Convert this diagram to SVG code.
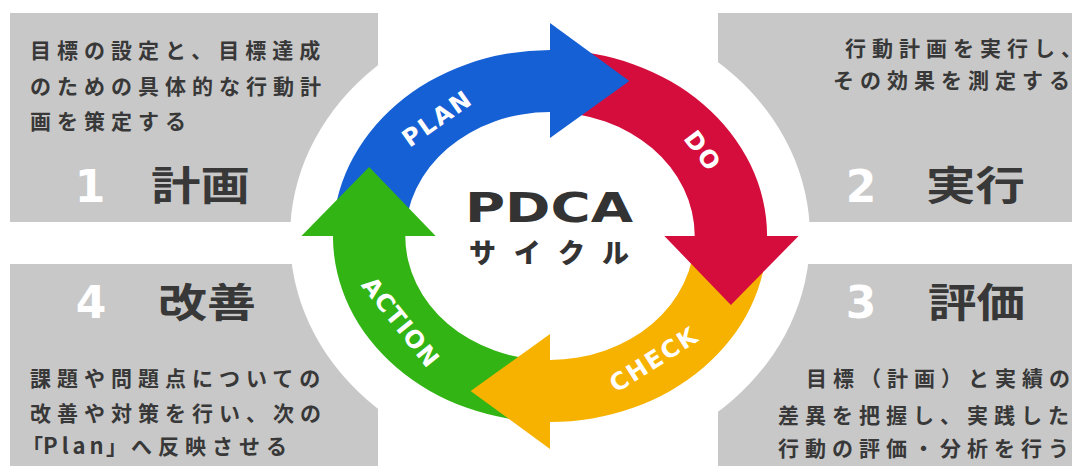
<svg xmlns="http://www.w3.org/2000/svg" width="1072" height="466" viewBox="0 0 1072 466">
<style>
.box{fill:#c8c8c8}
.desc{font-family:"Noto Sans CJK JP","Noto Sans CJK SC",sans-serif;font-weight:700;font-size:21px;letter-spacing:6px;fill:#383838}
.l0{letter-spacing:0}
.title{font-family:"Noto Sans CJK JP","Noto Sans CJK SC",sans-serif;font-weight:700;font-size:40px;fill:#383838}
.num{font-family:"DejaVu Sans",sans-serif;font-weight:700;font-size:44px;fill:#ffffff;text-anchor:middle}
.lbl{font-family:"DejaVu Sans",sans-serif;font-weight:700;font-size:24px;fill:#ffffff;text-anchor:middle;letter-spacing:2px}
.center{font-family:"DejaVu Sans","Noto Sans CJK JP",sans-serif;font-weight:700;fill:#333333}
</style>
<rect width="1072" height="466" fill="#ffffff"/>
<g id="box-plan">
<rect class="box" x="10" y="13" width="368" height="209"/>
</g>
<g id="box-do">
<rect class="box" x="718" y="13" width="354" height="209"/>
</g>
<g id="box-action">
<rect class="box" x="10" y="264" width="368" height="202"/>
</g>
<g id="box-check">
<rect class="box" x="718" y="264" width="354" height="202"/>
</g>
<ellipse id="halo" cx="550" cy="237" rx="260" ry="229" fill="#ffffff"/>
<g id="text-plan">
<text class="desc" x="30" y="58">目標の設定と、目標達<tspan class="l0">成</tspan></text>
<text class="desc" x="30" y="94">のための具体的な行動<tspan class="l0">計</tspan></text>
<text class="desc" x="30" y="129">画を策定す<tspan class="l0">る</tspan></text>
<text class="num" x="90" y="202">1</text>
<text class="title" x="151" y="200" textLength="99" lengthAdjust="spacingAndGlyphs">計画</text>
</g>
<g id="text-do">
<text class="desc" x="845" y="56">行動計画を実行し<tspan class="l0" style="font-feature-settings:'halt'">、</tspan></text>
<text class="desc" x="833" y="88">その効果を測定す<tspan class="l0">る</tspan></text>
<text class="num" x="861" y="202">2</text>
<text class="title" x="926" y="200" textLength="99" lengthAdjust="spacingAndGlyphs">実行</text>
</g>
<g id="text-check">
<text class="num" x="861" y="318">3</text>
<text class="title" x="928" y="317" textLength="97" lengthAdjust="spacingAndGlyphs">評価</text>
<text class="desc" x="806" y="386">目標（計画）と実績<tspan class="l0">の</tspan></text>
<text class="desc" x="778" y="423">差異を把握し、実践し<tspan class="l0">た</tspan></text>
<text class="desc" x="778" y="456">行動の評価・分析を行<tspan class="l0">う</tspan></text>
</g>
<g id="text-action">
<text class="num" x="91" y="318">4</text>
<text class="title" x="158" y="317" textLength="98" lengthAdjust="spacingAndGlyphs">改善</text>
<text class="desc" x="30" y="386">課題や問題点についての</text>
<text class="desc" x="30" y="421">改善や対策を行い、次の</text>
<text class="desc" y="454"><tspan x="22" class="l0">「</tspan><tspan x="43" style="font-size:22px;letter-spacing:4px">Pla</tspan><tspan class="l0" style="font-size:22px">n</tspan><tspan x="106" class="l0">」</tspan><tspan x="131">へ反映させ</tspan><tspan class="l0">る</tspan></text>
</g>
<g id="connectors" transform="translate(550,236) scale(1.167,1)">
<path d="M -186 0 A 186 186 0 0 1 0 -186 L 0 -124 A 124 124 0 0 0 -124 0 Z" fill="#1560d4"/>
<path d="M 0 -186 A 186 186 0 0 1 186 0 L 124 0 A 124 124 0 0 0 0 -124 Z" fill="#d40d3c"/>
<path d="M 186 0 A 186 186 0 0 1 0 186 L 0 124 A 124 124 0 0 0 124 0 Z" fill="#f7b200"/>
<path d="M 0 186 A 186 186 0 0 1 -186 0 L -124 0 A 124 124 0 0 0 0 124 Z" fill="#32b414"/>
<polygon points="0,-213 0,-98 68,-155" fill="#1560d4"/>
<polygon points="98,0 213,0 155,69" fill="#d40d3c"/>
<polygon points="0,213 0,98 -68,155" fill="#f7b200"/>
<polygon points="-98,0 -213,0 -155,-69" fill="#32b414"/>
</g>
<g id="labels">
<text class="lbl" transform="translate(437,118) rotate(-35)" y="8.7">PLAN</text>
<text class="lbl" transform="translate(703,151) rotate(53)" y="8.7">DO</text>
<text class="lbl" transform="translate(654,359) rotate(-32.5)" y="8.7">CHECK</text>
<text class="lbl" transform="translate(401,322) rotate(51.4)" y="8.7" style="letter-spacing:1px">ACTION</text>
</g>
<g id="center">
<text class="center" x="465" y="222" font-size="40" textLength="168" lengthAdjust="spacingAndGlyphs">PDCA</text>
<text class="center" x="469" y="263" font-size="27" style="font-family:'Noto Sans CJK JP',sans-serif;font-weight:900" textLength="160" lengthAdjust="spacing">サイクル</text>
</g>
</svg>
